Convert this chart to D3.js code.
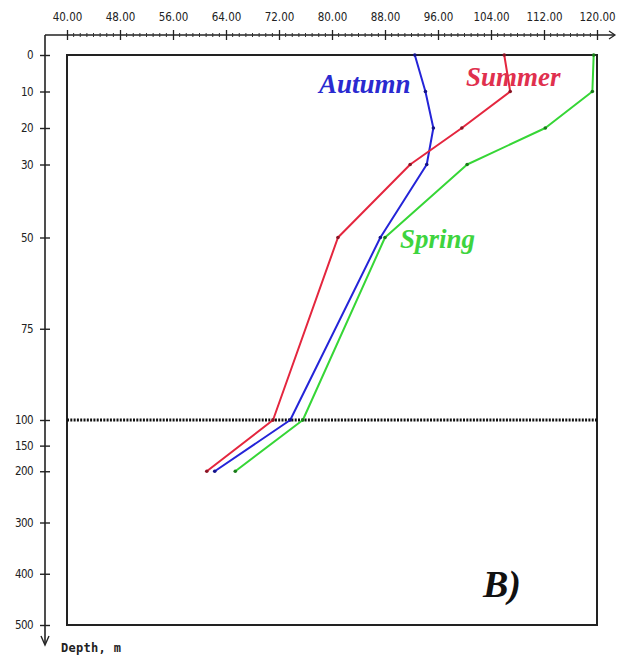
<!DOCTYPE html>
<html>
<head>
<meta charset="utf-8">
<script src="https://cdn.jsdelivr.net/npm/d3@7"></script>
<style>
  html, body { margin: 0; padding: 0; background: #fff; }
  svg { display: block; }
</style>
</head>
<body>
<svg id="chart" width="621" height="661"></svg>
<script>
// Depth levels (m) sampled at each station profile
const depths = [0, 10, 20, 30, 50, 100, 200];

// Seasonal profile values along the horizontal axis
const autumn = [92.5, 94.1, 95.3, 94.3, 87.3, 73.7, 62.3];
const summer = [106.0, 106.9, 99.6, 91.8, 80.9, 71.1, 61.1];
const spring = [119.5, 119.3, 112.2, 100.4, 88.0, 75.6, 65.4];

const seasonNames = ["Autumn", "Summer", "Spring"];

// Axis ticks
const xTicks = [40, 48, 56, 64, 72, 80, 88, 96, 104, 112, 120];
const depthTicks = [0, 10, 20, 30, 50, 75, 100, 150, 200, 300, 400, 500];
const markerDepth = 100;

const svg = d3.select("#chart");

// Horizontal value scale and a two-part depth scale (expanded upper 100 m)
const x = d3.scaleLinear().domain([40, 120]).range([67, 597]);
const y = d3.scaleLinear().domain([0, 100, 500]).range([55, 420, 625]);

const axisY0 = 35;   // top axis line
const axisX0 = 45;   // depth axis line

const tickFont = "'Liberation Sans Narrow', 'DejaVu Sans Condensed', sans-serif";

// Plot frame
svg.append("rect")
  .attr("x", x(40)).attr("y", y(0))
  .attr("width", x(120) - x(40)).attr("height", y(500) - y(0))
  .attr("fill", "#fff")
  .attr("stroke", "#222").attr("stroke-width", 2);

// ---- top axis ----
const gTop = svg.append("g").attr("transform", `translate(0,${axisY0})`);
gTop.append("line")
  .attr("x1", axisX0).attr("x2", 614)
  .attr("stroke", "#222").attr("stroke-width", 1.6);
gTop.append("path")
  .attr("d", "M609,-4 L615,0 L609,4")
  .attr("fill", "none").attr("stroke", "#222").attr("stroke-width", 1.2);

// minor ticks every unit
gTop.selectAll("line.minor")
  .data(d3.range(40, 121, 1).filter(v => (v - 40) % 8 !== 0))
  .join("line").attr("class", "minor")
  .attr("x1", d => x(d)).attr("x2", d => x(d))
  .attr("y1", -2).attr("y2", 2)
  .attr("stroke", "#333").attr("stroke-width", 1);

const topAxis = d3.axisTop(x)
  .tickValues(xTicks)
  .tickFormat(d => d.toFixed(2))
  .tickSizeInner(5).tickSizeOuter(0).tickPadding(9);
const gTopAxis = gTop.append("g").call(topAxis);
gTopAxis.select(".domain").remove();
gTopAxis.selectAll(".tick line").attr("y1", 5).attr("y2", -5)
  .attr("stroke", "#222").attr("stroke-width", 1.3);
gTopAxis.selectAll(".tick text")
  .attr("font-family", tickFont).attr("font-size", 11.5)
  .attr("fill", "#222");

// ---- depth axis ----
const gLeft = svg.append("g").attr("transform", `translate(${axisX0},0)`);
gLeft.append("line")
  .attr("y1", axisY0).attr("y2", 643)
  .attr("stroke", "#222").attr("stroke-width", 1.6);
gLeft.append("path")
  .attr("d", "M-4,636 L0,645 L4,636")
  .attr("fill", "none").attr("stroke", "#222").attr("stroke-width", 1.4);

const leftAxis = d3.axisLeft(y)
  .tickValues(depthTicks)
  .tickFormat(d3.format("d"))
  .tickSizeInner(5).tickSizeOuter(0).tickPadding(7);
const gLeftAxis = gLeft.append("g").call(leftAxis);
gLeftAxis.select(".domain").remove();
gLeftAxis.selectAll(".tick line").attr("x1", -5).attr("x2", 5)
  .attr("stroke", "#222").attr("stroke-width", 1.4);
gLeftAxis.selectAll(".tick text")
  .attr("font-family", "'DejaVu Sans Condensed', sans-serif")
  .attr("font-size", 11.5).attr("letter-spacing", -0.6)
  .attr("fill", "#222");

svg.append("text")
  .attr("x", 61).attr("y", 652)
  .attr("font-family", "'DejaVu Sans Mono', monospace")
  .attr("font-size", 12).attr("font-weight", "bold")
  .attr("letter-spacing", 0.3)
  .attr("fill", "#222")
  .text("Depth, m");

// Reference depth line at 100 m
svg.append("line")
  .attr("x1", x(40)).attr("x2", x(120))
  .attr("y1", y(markerDepth)).attr("y2", y(markerDepth))
  .attr("stroke", "#111").attr("stroke-width", 3.2)
  .attr("stroke-dasharray", "2,1.3");

// ---- profiles ----
const series = [
  { name: seasonNames[0], values: autumn, line: "#2424d8", dot: "#14148a" },
  { name: seasonNames[1], values: summer, line: "#e4263e", dot: "#8a1424" },
  { name: seasonNames[2], values: spring, line: "#36d636", dot: "#1a7a1a" }
];

const lineGen = d3.line()
  .x(d => x(d.v))
  .y(d => y(d.depth));

series.forEach(s => {
  const pts = depths.map((depth, i) => ({ depth, v: s.values[i] }));
  svg.append("path")
    .datum(pts)
    .attr("d", lineGen)
    .attr("fill", "none")
    .attr("stroke", s.line)
    .attr("stroke-width", 2)
    .attr("stroke-linejoin", "round");
  svg.append("g").selectAll("circle")
    .data(pts)
    .join("circle")
    .attr("cx", d => x(d.v)).attr("cy", d => y(d.depth))
    .attr("r", 1.8)
    .attr("fill", s.dot);
});

// Season labels
const labelFont = "'Liberation Serif', 'Times New Roman', serif";
const labels = [
  { text: seasonNames[0], color: "#2a2ad0", x: 319, y: 93 },
  { text: seasonNames[1], color: "#e0304e", x: 466, y: 86 },
  { text: seasonNames[2], color: "#3ed43e", x: 400, y: 248 }
];
svg.selectAll("text.season")
  .data(labels)
  .join("text").attr("class", "season")
  .attr("x", d => d.x).attr("y", d => d.y)
  .attr("font-family", labelFont)
  .attr("font-size", 27)
  .attr("font-weight", "bold")
  .attr("font-style", "italic")
  .attr("fill", d => d.color)
  .text(d => d.text);

// Panel letter
svg.append("text")
  .attr("x", 483).attr("y", 597)
  .attr("font-family", labelFont)
  .attr("font-size", 38)
  .attr("font-weight", "bold")
  .attr("font-style", "italic")
  .attr("fill", "#111")
  .text("B)");
</script>
</body>
</html>
